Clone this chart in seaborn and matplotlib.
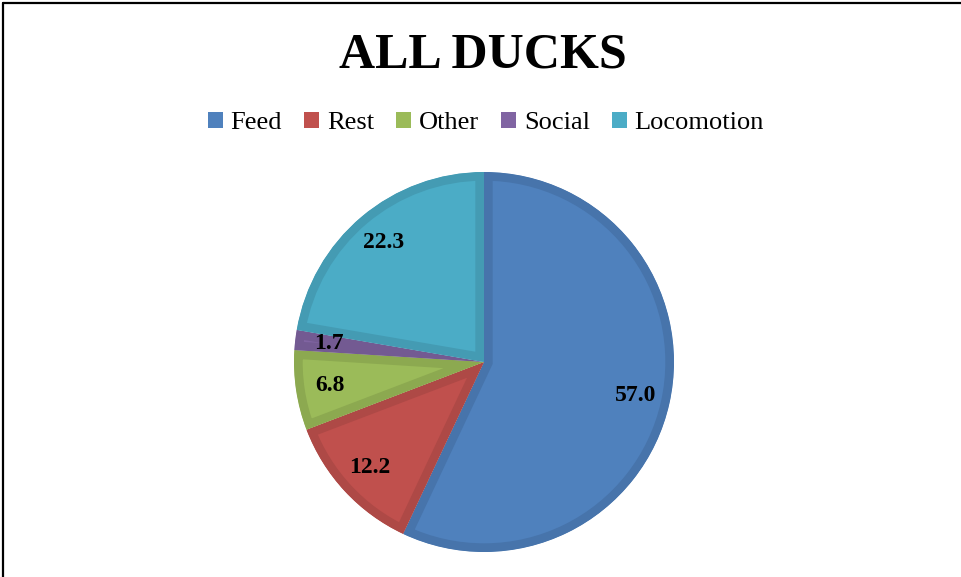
import matplotlib
matplotlib.use("Agg")
import matplotlib.pyplot as plt
from matplotlib.patches import Patch, Wedge
from matplotlib.lines import Line2D
import seaborn as sns

categories = ["Feed", "Rest", "Other", "Social", "Locomotion"]
values = [57.0, 12.2, 6.8, 1.7, 22.3]
title = "ALL DUCKS"

face_colors = ["#4F81BD", "#C0504D", "#9BBB59", "#8064A2", "#4BACC6"]
edge_colors = ["#4774AB", "#AE4946", "#8CA950", "#735A92", "#449BB3"]

sns.set_theme(style="white")
plt.rcParams["font.family"] = ["Liberation Serif", "DejaVu Serif"]
plt.rcParams["text.color"] = "black"
palette = sns.color_palette(face_colors)

W, H = 962, 577
fig = plt.figure(figsize=(W / 100, H / 100), dpi=100)
fig.patch.set_facecolor("white")

cx, cy, r = 484, 362, 190
ax = fig.add_axes([(cx - r) / W, (H - cy - r) / H, 2 * r / W, 2 * r / H])

wedges, texts, autotexts = ax.pie(
    values, colors=palette, startangle=90, counterclock=False,
    radius=1.0, autopct="%.1f", pctdistance=0.82,
    wedgeprops=dict(linewidth=0),
    textprops=dict(fontsize=17, fontweight="bold", color="black"),
)
ax.set_xlim(-1, 1)
ax.set_ylim(-1, 1)
ax.set_aspect("equal")
ax.axis("off")

for w, ec in zip(wedges, edge_colors):
    clip = Wedge(w.center, w.r, w.theta1, w.theta2, transform=ax.transData)
    w.set_edgecolor(ec)
    w.set_linewidth(12.5)
    w.set_joinstyle("miter")
    w.set_clip_on(True)
    w.set_clip_path(clip)

fig.text(0.502, 1 - 68 / H, title, ha="center", va="baseline",
         fontsize=36, fontweight="bold", color="black")

handles = [Patch(facecolor=c, edgecolor="none") for c in face_colors]
fig.legend(handles, categories, loc="center", ncol=5,
           bbox_to_anchor=(486 / W, 1 - 123 / H), frameon=False,
           fontsize=19, handlelength=0.55, handleheight=0.55,
           handletextpad=0.3, columnspacing=0.85, labelcolor="black")

fig.add_artist(Line2D([3 / W, 1], [1 - 3 / H, 1 - 3 / H],
                      transform=fig.transFigure, color="black", linewidth=1.6))
fig.add_artist(Line2D([3 / W, 3 / W], [0, 1 - 3 / H],
                      transform=fig.transFigure, color="black", linewidth=1.6))

fig.savefig("out.png", dpi=100, facecolor="white")
